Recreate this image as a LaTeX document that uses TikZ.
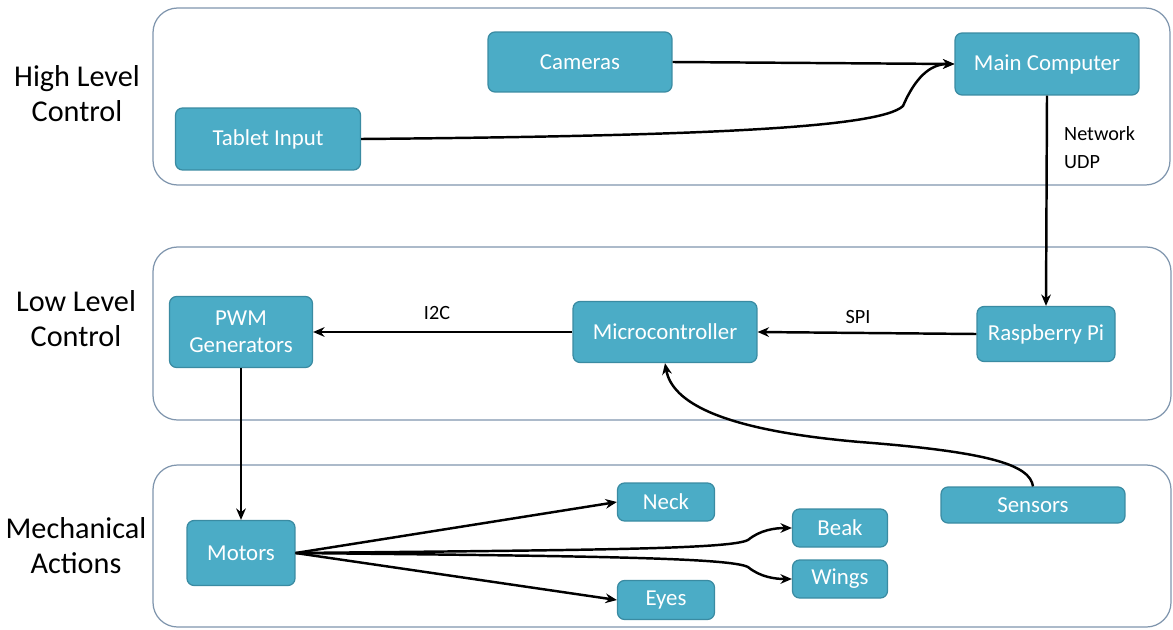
\documentclass[tikz,border=0pt]{standalone}
\usepackage{fontspec}
\setmainfont{Carlito}
\usetikzlibrary{arrows.meta}
\definecolor{boxfill}{HTML}{4BACC6}
\definecolor{boxedge}{HTML}{3A8BA2}
\definecolor{panel}{HTML}{7F95AD}

\begin{document}
\begin{tikzpicture}[x=0.02cm,y=-0.02cm,
  block/.style={draw=boxedge, fill=boxfill, text=white, rounded corners=4pt,
    line width=0.7pt, font=\fontsize{13}{15.5}\selectfont, align=center, inner sep=0pt},
  layer/.style={draw=panel, line width=0.7pt, rounded corners=14pt},
  side/.style={font=\fontsize{17.2}{20}\selectfont, align=center},
  tag/.style={font=\fontsize{11.5}{16}\selectfont},
  link/.style={line width=1.4pt, -{Stealth[length=6.5pt,width=5.5pt]}}]

\useasboundingbox (0,0) rectangle (1173,629);

% the three layers
\draw[layer] (153,8) rectangle (1170,185);
\draw[layer] (153,247) rectangle (1171,420);
\draw[layer] (153,465) rectangle (1171,627);

\node[side] (hl) at (77,94) {High Level\\Control};
\node[side] (ll) at (76,319) {Low Level\\Control};
\node[side] (ma) at (76,546) {Mechanical\\Actions};

% blocks
\node[block, minimum width=3.68cm, minimum height=1.2cm]  (cam)   at (580,62)   {Cameras};
\node[block, minimum width=3.68cm, minimum height=1.24cm] (main)  at (1047,64)  {Main Computer};
\node[block, minimum width=3.7cm,  minimum height=1.24cm] (tab)   at (268,139)  {Tablet Input};
\node[block, minimum width=2.86cm, minimum height=1.42cm] (pwm)   at (241,332)  {PWM\\Generators};
\node[block, minimum width=3.68cm, minimum height=1.22cm] (mcu)   at (665,332)  {Microcontroller};
\node[block, minimum width=2.76cm, minimum height=1.1cm]  (rpi)   at (1046,334) {Raspberry Pi};
\node[block, minimum width=2.16cm, minimum height=1.3cm]  (mot)   at (241,553)  {Motors};
\node[block, minimum width=1.94cm, minimum height=0.76cm] (neck)  at (666,502)  {Neck};
\node[block, minimum width=1.9cm,  minimum height=0.76cm] (beak)  at (840,528)  {Beak};
\node[block, minimum width=1.9cm,  minimum height=0.76cm] (wings) at (840,579)  {Wings};
\node[block, minimum width=1.94cm, minimum height=0.78cm] (eyes)  at (666,600)  {Eyes};
\node[block, minimum width=3.68cm, minimum height=0.72cm] (sens)  at (1033,505) {Sensors};

% labels on links
\node[tag, anchor=west, align=left] (udp) at (1058,148) {Network\\UDP};
\node[tag] (i2c) at (437,313) {I2C};
\node[tag] (spi) at (858,317) {SPI};

% links
\draw[link] (cam.east) -- (main.west);
\draw[link] (tab.east) .. controls (700,136) and (880,128) .. (903,106)
  .. controls (915,78) and (930,64) .. (main.west);
\draw[link] (main.south) -- (rpi.north);
\draw[link] (rpi.west) -- (mcu.east);
\draw[link] (mcu.west) -- (pwm.east);
\draw[link] (pwm.south) -- (mot.north);
\draw[link] (sens.north) .. controls (1030,465) and (990,452) .. (860,442)
  .. controls (720,430) and (672,402) .. (mcu.south);
\draw[link] (mot.east) -- (neck.west);
\draw[link] (mot.east) -- (eyes.west);
\draw[link] (mot.east) .. controls (600,550) and (730,549) .. (748,540)
  .. controls (760,530) and (775,528) .. (beak.west);
\draw[link] (mot.east) .. controls (600,556) and (730,558) .. (748,567)
  .. controls (760,577) and (775,579) .. (wings.west);
\end{tikzpicture}
\end{document}
